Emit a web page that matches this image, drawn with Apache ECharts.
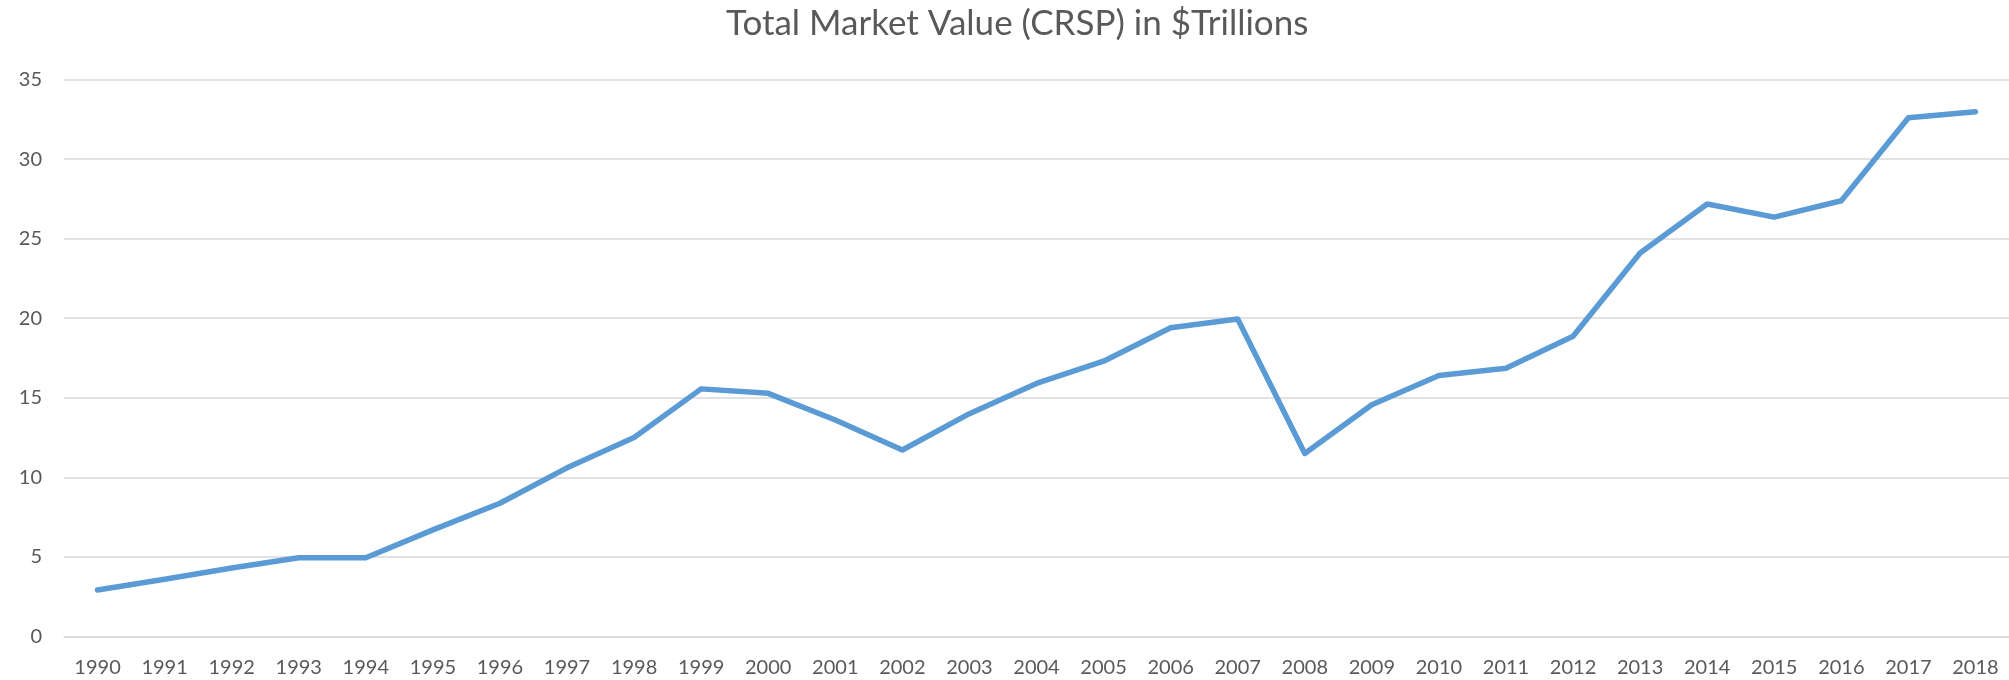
<!DOCTYPE html>
<html>
<head>
<meta charset="utf-8">
<title>Total Market Value (CRSP)</title>
<script src="https://cdn.jsdelivr.net/npm/echarts@6/dist/echarts.min.js"></script>
<style>
  html, body { margin: 0; padding: 0; background: #fff; }
  #chart { width: 2009px; height: 680px; }
</style>
</head>
<body>
<div id="chart"></div>
<script>
// years on the category axis
const years = ['1990', '1991', '1992', '1993', '1994', '1995', '1996', '1997', '1998', '1999',
  '2000', '2001', '2002', '2003', '2004', '2005', '2006', '2007', '2008', '2009',
  '2010', '2011', '2012', '2013', '2014', '2015', '2016', '2017', '2018'];

// total market value, $ trillions
const marketValue = [2.92, 3.6, 4.3, 4.95, 4.95, 6.7, 8.37, 10.6, 12.5, 15.56,
  15.28, 13.6, 11.72, 14.0, 15.9, 17.3, 19.4, 19.95, 11.5, 14.56,
  16.4, 16.85, 18.87, 24.1, 27.18, 26.35, 27.38, 32.6, 32.98];

const yTicks = { min: 0, max: 35, interval: 5 };

const labelColor = '#595959';
const gridColor = '#d9d9d9';
const fontFamily = 'Lato, "Open Sans", sans-serif';

const myChart = echarts.init(document.getElementById('chart'));

const option = {
  backgroundColor: '#fff',
  animation: false,
  title: {
    text: 'Total Market Value (CRSP) in $Trillions',
    left: 721,
    top: 1,
    textStyle: {
      color: labelColor,
      fontFamily: fontFamily,
      fontWeight: 'normal',
      fontSize: 35
    }
  },
  grid: {
    left: 64,
    right: -6,
    top: 79.5,
    bottom: 43.5
  },
  xAxis: {
    type: 'category',
    data: years,
    boundaryGap: true,
    axisLine: { lineStyle: { color: gridColor, width: 1.5 } },
    axisTick: { show: false },
    axisLabel: {
      color: labelColor,
      fontFamily: fontFamily,
      fontSize: 20,
      margin: 21,
      interval: 0
    }
  },
  yAxis: {
    type: 'value',
    min: yTicks.min,
    max: yTicks.max,
    interval: yTicks.interval,
    axisLine: { show: false },
    axisTick: { show: false },
    axisLabel: {
      color: labelColor,
      fontFamily: fontFamily,
      fontSize: 20,
      margin: 22
    },
    splitLine: { lineStyle: { color: gridColor, width: 1.5 } }
  },
  series: [{
    name: 'Total Market Value',
    type: 'line',
    data: marketValue,
    symbol: 'none',
    lineStyle: { color: '#5b9bd5', width: 5.5, cap: 'round', join: 'round' }
  }]
};

myChart.setOption(option);
</script>
</body>
</html>
